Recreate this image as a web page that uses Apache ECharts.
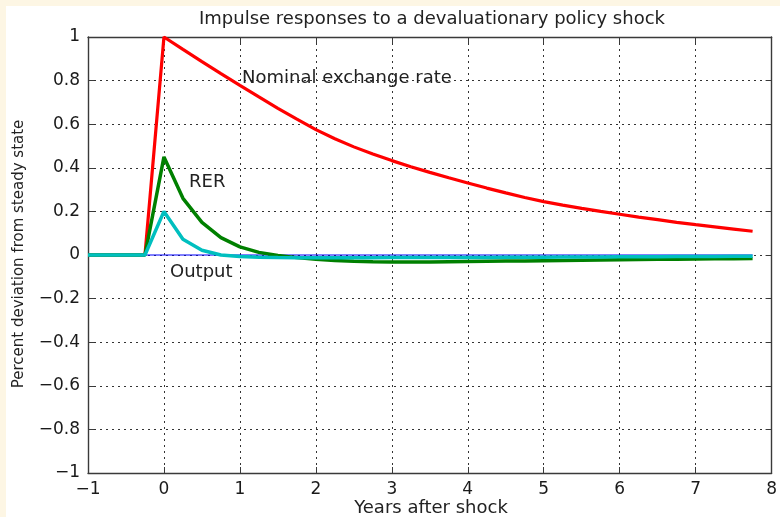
<!DOCTYPE html>
<html>
<head>
<meta charset="utf-8">
<script src="https://cdn.jsdelivr.net/npm/echarts@6/dist/echarts.min.js"></script>
<style>
  html, body { margin: 0; padding: 0; background: #fdf6e4; width: 780px; height: 517px; overflow: hidden; }
  #c { position: absolute; left: 6px; top: 6px; width: 774px; height: 511px; background: #ffffff; }
</style>
</head>
<body>
<div id="c"></div>
<script>
// Years after shock (quarterly)
const years = [-1, -0.75, -0.5, -0.25, 0, 0.25, 0.5, 0.75, 1, 1.25, 1.5, 1.75, 2, 2.25, 2.5, 2.75,
  3, 3.25, 3.5, 3.75, 4, 4.25, 4.5, 4.75, 5, 5.25, 5.5, 5.75, 6, 6.25, 6.5, 6.75, 7, 7.25, 7.5, 7.75];
// Nominal exchange rate
const nominal = [0, 0, 0, 0, 1.000, 0.943, 0.887, 0.832, 0.778, 0.725, 0.673, 0.623, 0.575, 0.533, 0.496, 0.463,
  0.433, 0.405, 0.379, 0.354, 0.330, 0.307, 0.285, 0.264, 0.245, 0.229, 0.214, 0.200, 0.187, 0.174, 0.162, 0.150,
  0.139, 0.129, 0.119, 0.109];
// RER
const rer = [0, 0, 0, 0, 0.45, 0.26, 0.15, 0.08, 0.037, 0.012, -0.002, -0.012, -0.02, -0.025, -0.029, -0.031,
  -0.032, -0.032, -0.032, -0.031, -0.030, -0.029, -0.028, -0.027, -0.026, -0.025, -0.024, -0.023,
  -0.022, -0.021, -0.020, -0.019, -0.018, -0.017, -0.017, -0.016];
// Output
const output = [0, 0, 0, 0, 0.2, 0.072, 0.022, 0.0, -0.007, -0.010, -0.012, -0.013, -0.013, -0.013, -0.013, -0.013,
  -0.012, -0.012, -0.012, -0.011, -0.011, -0.011, -0.010, -0.010, -0.010, -0.009, -0.009, -0.009,
  -0.008, -0.008, -0.008, -0.007, -0.007, -0.007, -0.006, -0.006];
// Zero reference line
const zeroX = [-1, 7.75];
const zeroY = [0, 0];

const xTicks = { min: -1, max: 8, interval: 1 };
const yTicks = { min: -1, max: 1, interval: 0.2 };

const titleText = 'Impulse responses to a devaluationary policy shock';
const xName = 'Years after shock';
const yName = 'Percent deviation from steady state';
const labelNominal = 'Nominal exchange rate';
const labelRer = 'RER';
const labelOutput = 'Output';

const pair = (xs, ys) => xs.map((x, i) => [x, ys[i]]);
const minusFmt = v => String(+v.toFixed(2)).replace('-', '\u2212');
const FONT = '"DejaVu Sans", "Liberation Sans", Arial, sans-serif';
const axisColor = '#3a3a3a';
const gridLine = { show: true, lineStyle: { color: '#333', width: 1, type: [2, 4] } };

function mkX(pos, main) {
  return {
    type: 'value', position: pos, min: xTicks.min, max: xTicks.max, interval: xTicks.interval,
    axisLine: { show: true, onZero: false, lineStyle: { color: axisColor, width: 1.4 } },
    axisTick: { show: true, inside: true, length: 6, lineStyle: { color: axisColor } },
    axisLabel: { show: main, margin: 8, fontSize: 17, color: '#1a1a1a', fontFamily: FONT, formatter: minusFmt },
    splitLine: main ? gridLine : { show: false }
  };
}
function mkY(pos, main) {
  return {
    type: 'value', position: pos, min: yTicks.min, max: yTicks.max, interval: yTicks.interval,
    axisLine: { show: true, onZero: false, lineStyle: { color: axisColor, width: 1.4 } },
    axisTick: { show: true, inside: true, length: 6, lineStyle: { color: axisColor } },
    axisLabel: { show: main, margin: 8, fontSize: 17, color: '#1a1a1a', fontFamily: FONT, formatter: minusFmt },
    splitLine: main ? gridLine : { show: false }
  };
}

function txt(text, x, y, size, align, rot) {
  return {
    type: 'text', x: x, y: y, rotation: rot || 0, z: 100,
    style: {
      text: text, fill: '#222', font: size + 'px ' + FONT,
      align: align, verticalAlign: 'middle', textAlign: align, textVerticalAlign: 'middle'
    }
  };
}

const chart = echarts.init(document.getElementById('c'), null, { renderer: 'canvas' });
chart.setOption({
  animation: false,
  backgroundColor: '#ffffff',
  grid: { left: 82, right: 8, top: 31, bottom: 44, containLabel: false },
  xAxis: [mkX('bottom', true), mkX('top', false)],
  yAxis: [mkY('left', true), mkY('right', false)],
  series: [
    { type: 'line', data: pair(zeroX, zeroY), showSymbol: false, lineStyle: { color: '#0000ff', width: 1.2 }, z: 1 },
    { type: 'line', data: pair(years, nominal), showSymbol: false, lineStyle: { color: '#ff0000', width: 3.2 }, z: 2 },
    { type: 'line', data: pair(years, rer), showSymbol: false, lineStyle: { color: '#008000', width: 3.5 }, z: 3 },
    { type: 'line', data: pair(years, output), showSymbol: false, lineStyle: { color: '#00bfbf', width: 3.5 }, z: 4 }
  ],
  graphic: [
    txt(titleText, 426, 13, 18, 'center'),
    txt(xName, 425, 502, 18, 'center'),
    txt(yName, 13, 248, 15, 'center', Math.PI / 2),
    txt(labelNominal, 236, 72, 18, 'left'),
    txt(labelRer, 183, 176, 18, 'left'),
    txt(labelOutput, 164, 266, 18, 'left')
  ]
});
</script>
</body>
</html>
